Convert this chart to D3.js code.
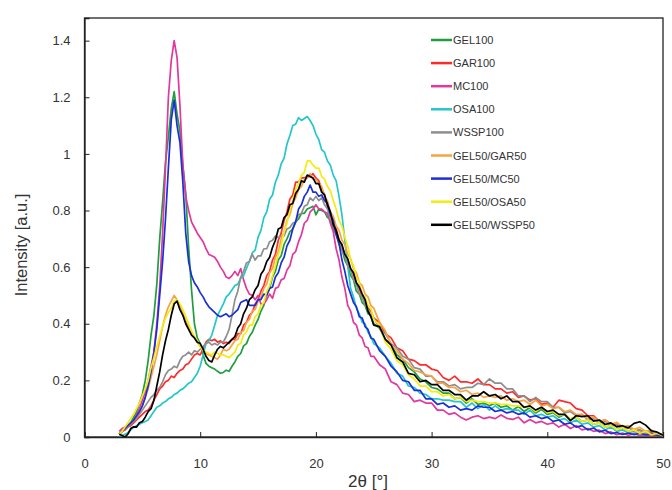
<!DOCTYPE html>
<html>
<head>
<meta charset="utf-8">
<script src="https://cdn.jsdelivr.net/npm/d3@7"></script>
<style>
  html, body { margin: 0; padding: 0; background: #fff; }
  svg { display: block; font-family: "Liberation Sans", Arial, sans-serif; }
</style>
</head>
<body>
<svg id="chart" width="672" height="490"></svg>
<script>
// Diffraction angle grid: 0.25° steps up to 25°, then 0.5° steps to 50°
const angleFine = [
  3, 3.25, 3.5, 3.75, 4, 4.25, 4.5, 4.75, 5, 5.25, 5.5, 5.75, 6, 6.25, 6.5, 6.75,
  7, 7.25, 7.5, 7.75, 8, 8.25, 8.5, 8.75, 9, 9.25, 9.5, 9.75, 10, 10.25, 10.5, 10.75,
  11, 11.25, 11.5, 11.75, 12, 12.25, 12.5, 12.75, 13, 13.25, 13.5, 13.75, 14, 14.25, 14.5, 14.75,
  15, 15.25, 15.5, 15.75, 16, 16.25, 16.5, 16.75, 17, 17.25, 17.5, 17.75, 18, 18.25, 18.5, 18.75,
  19, 19.25, 19.5, 19.75, 20, 20.25, 20.5, 20.75, 21, 21.25, 21.5, 21.75, 22, 22.25, 22.5, 22.75,
  23, 23.25, 23.5, 23.75, 24, 24.25, 24.5, 24.75, 25
];
const angleCoarse = [
  25.5, 26, 26.5, 27, 27.5, 28, 28.5, 29, 29.5, 30,
  30.5, 31, 31.5, 32, 32.5, 33, 33.5, 34, 34.5, 35,
  35.5, 36, 36.5, 37, 37.5, 38, 38.5, 39, 39.5, 40,
  40.5, 41, 41.5, 42, 42.5, 43, 43.5, 44, 44.5, 45,
  45.5, 46, 46.5, 47, 47.5, 48, 48.5, 49, 49.5, 50
];
const twoTheta = angleFine.concat(angleCoarse);

// Intensity [a.u.] of each sample
const gel100 = [
  0.01, 0.02, 0.03, 0.04, 0.05, 0.07, 0.09, 0.12, 0.15, 0.20, 0.27, 0.36, 0.43, 0.54, 0.70, 0.83,
  0.97, 1.06, 1.16, 1.22, 1.14, 1.08, 0.96, 0.86, 0.67, 0.52, 0.40, 0.35, 0.33, 0.29, 0.26, 0.25,
  0.245, 0.24, 0.232, 0.225, 0.228, 0.236, 0.232, 0.25, 0.265, 0.285, 0.295, 0.322, 0.33, 0.355, 0.37, 0.395,
  0.415, 0.445, 0.465, 0.505, 0.525, 0.565, 0.585, 0.625, 0.64, 0.68, 0.70, 0.725, 0.735, 0.76, 0.77, 0.79,
  0.79, 0.805, 0.81, 0.815, 0.785, 0.805, 0.80, 0.795, 0.775, 0.77, 0.735, 0.715, 0.68, 0.665, 0.625, 0.605,
  0.57, 0.555, 0.515, 0.505, 0.475, 0.465, 0.435, 0.43, 0.40,
  0.385, 0.345, 0.325, 0.29, 0.275, 0.245, 0.23, 0.205, 0.195, 0.175,
  0.17, 0.155, 0.155, 0.135, 0.14, 0.12, 0.135, 0.115, 0.12, 0.11,
  0.12, 0.105, 0.11, 0.095, 0.108, 0.09, 0.104, 0.085, 0.098, 0.08,
  0.086, 0.07, 0.08, 0.062, 0.07, 0.055, 0.06, 0.045, 0.05, 0.035,
  0.04, 0.025, 0.033, 0.02, 0.025, 0.015, 0.02, 0.008, 0.012, 0.004
];
const gar100 = [
  0.01, 0.02, 0.025, 0.035, 0.04, 0.05, 0.06, 0.07, 0.08, 0.09, 0.095, 0.11, 0.13, 0.15, 0.17, 0.18,
  0.195, 0.20, 0.215, 0.21, 0.225, 0.235, 0.24, 0.255, 0.26, 0.275, 0.29, 0.295, 0.29, 0.31, 0.335, 0.345,
  0.34, 0.345, 0.335, 0.34, 0.33, 0.335, 0.33, 0.345, 0.345, 0.365, 0.365, 0.395, 0.405, 0.43, 0.44, 0.47,
  0.485, 0.515, 0.535, 0.57, 0.585, 0.625, 0.645, 0.695, 0.72, 0.765, 0.795, 0.84, 0.855, 0.90, 0.90, 0.915,
  0.915, 0.92, 0.92, 0.93, 0.915, 0.905, 0.875, 0.855, 0.815, 0.795, 0.755, 0.735, 0.695, 0.675, 0.64, 0.625,
  0.59, 0.575, 0.54, 0.525, 0.495, 0.485, 0.455, 0.445, 0.42,
  0.405, 0.365, 0.35, 0.315, 0.305, 0.275, 0.27, 0.255, 0.255, 0.24,
  0.235, 0.21, 0.20, 0.215, 0.195, 0.195, 0.19, 0.205, 0.185, 0.185,
  0.17, 0.17, 0.155, 0.16, 0.14, 0.145, 0.13, 0.135, 0.115, 0.12,
  0.105, 0.13, 0.125, 0.12, 0.10, 0.095, 0.075, 0.075, 0.055, 0.06,
  0.045, 0.045, 0.03, 0.035, 0.02, 0.025, 0.012, 0.016, 0.006, 0.008
];
const mc100 = [
  0.02, 0.03, 0.035, 0.04, 0.05, 0.06, 0.08, 0.10, 0.13, 0.16, 0.20, 0.25, 0.30, 0.40, 0.53, 0.72,
  0.95, 1.20, 1.33, 1.40, 1.34, 1.17, 0.96, 0.85, 0.80, 0.76, 0.74, 0.72, 0.705, 0.69, 0.665, 0.645,
  0.64, 0.635, 0.62, 0.60, 0.585, 0.565, 0.56, 0.57, 0.585, 0.57, 0.595, 0.555, 0.525, 0.505, 0.50, 0.485,
  0.50, 0.47, 0.47, 0.485, 0.505, 0.49, 0.525, 0.53, 0.555, 0.56, 0.59, 0.605, 0.645, 0.655, 0.69, 0.715,
  0.755, 0.765, 0.795, 0.805, 0.82, 0.805, 0.805, 0.795, 0.79, 0.755, 0.725, 0.665, 0.625, 0.565, 0.525, 0.465,
  0.445, 0.405, 0.395, 0.36, 0.35, 0.32, 0.315, 0.285, 0.285,
  0.255, 0.24, 0.195, 0.185, 0.155, 0.15, 0.125, 0.13, 0.12, 0.12,
  0.095, 0.095, 0.08, 0.085, 0.07, 0.06, 0.07, 0.075, 0.065, 0.07,
  0.065, 0.078, 0.066, 0.062, 0.07, 0.05, 0.062, 0.05, 0.055, 0.045,
  0.05, 0.035, 0.045, 0.03, 0.04, 0.025, 0.03, 0.02, 0.024, 0.012,
  0.018, 0.008, 0.014, 0.006, 0.012, 0.005, 0.008, 0.004, 0.006, 0.003
];
const osa100 = [
  0.0, 0.005, 0.01, 0.015, 0.025, 0.035, 0.04, 0.045, 0.05, 0.055, 0.06, 0.075, 0.09, 0.105, 0.11, 0.12,
  0.125, 0.135, 0.14, 0.15, 0.155, 0.165, 0.17, 0.18, 0.19, 0.195, 0.21, 0.225, 0.25, 0.29, 0.33, 0.34,
  0.36, 0.395, 0.43, 0.45, 0.47, 0.495, 0.505, 0.52, 0.535, 0.54, 0.56, 0.57, 0.595, 0.62, 0.65, 0.66,
  0.705, 0.73, 0.775, 0.795, 0.84, 0.855, 0.90, 0.925, 0.965, 0.985, 1.035, 1.065, 1.10, 1.105, 1.128, 1.118,
  1.125, 1.132, 1.118, 1.10, 1.07, 1.05, 1.015, 1.005, 0.975, 0.96, 0.925, 0.905, 0.85, 0.785, 0.695, 0.605,
  0.525, 0.495, 0.455, 0.435, 0.405, 0.40, 0.37, 0.355, 0.33,
  0.315, 0.285, 0.26, 0.225, 0.215, 0.18, 0.175, 0.155, 0.15, 0.135,
  0.135, 0.13, 0.13, 0.125, 0.125, 0.105, 0.12, 0.10, 0.115, 0.095,
  0.11, 0.095, 0.10, 0.095, 0.095, 0.08, 0.095, 0.075, 0.08, 0.07,
  0.075, 0.06, 0.065, 0.05, 0.06, 0.045, 0.05, 0.035, 0.04, 0.025,
  0.035, 0.02, 0.025, 0.015, 0.02, 0.01, 0.016, 0.008, 0.012, 0.004
];
const wssp100 = [
  0.01, 0.02, 0.03, 0.035, 0.045, 0.055, 0.065, 0.08, 0.095, 0.11, 0.125, 0.14, 0.15, 0.165, 0.175, 0.195,
  0.22, 0.235, 0.24, 0.25, 0.245, 0.27, 0.285, 0.29, 0.30, 0.29, 0.305, 0.30, 0.31, 0.32, 0.33, 0.335,
  0.325, 0.33, 0.325, 0.335, 0.335, 0.355, 0.38, 0.43, 0.485, 0.515, 0.565, 0.585, 0.615, 0.62, 0.645, 0.625,
  0.64, 0.64, 0.665, 0.665, 0.69, 0.695, 0.71, 0.705, 0.71, 0.71, 0.735, 0.74, 0.755, 0.76, 0.785, 0.79,
  0.815, 0.82, 0.845, 0.835, 0.85, 0.835, 0.845, 0.82, 0.805, 0.77, 0.755, 0.715, 0.695, 0.66, 0.64, 0.605,
  0.59, 0.555, 0.54, 0.505, 0.495, 0.465, 0.455, 0.425, 0.42,
  0.385, 0.365, 0.33, 0.315, 0.285, 0.275, 0.245, 0.24, 0.215, 0.215,
  0.195, 0.195, 0.18, 0.185, 0.17, 0.175, 0.175, 0.19, 0.185, 0.205,
  0.19, 0.19, 0.17, 0.17, 0.145, 0.145, 0.125, 0.14, 0.125, 0.125,
  0.105, 0.105, 0.085, 0.09, 0.075, 0.08, 0.06, 0.065, 0.05, 0.055,
  0.04, 0.045, 0.03, 0.035, 0.02, 0.025, 0.015, 0.02, 0.008, 0.006
];
const gel50gar50 = [
  0.01, 0.02, 0.03, 0.04, 0.05, 0.06, 0.075, 0.09, 0.11, 0.14, 0.17, 0.21, 0.25, 0.29, 0.34, 0.39,
  0.43, 0.46, 0.48, 0.50, 0.485, 0.465, 0.44, 0.41, 0.39, 0.37, 0.35, 0.335, 0.32, 0.305, 0.295, 0.29,
  0.285, 0.28, 0.275, 0.29, 0.31, 0.305, 0.31, 0.325, 0.34, 0.345, 0.37, 0.375, 0.405, 0.415, 0.445, 0.45,
  0.48, 0.495, 0.525, 0.54, 0.58, 0.595, 0.635, 0.655, 0.70, 0.725, 0.765, 0.785, 0.825, 0.845, 0.875, 0.885,
  0.91, 0.915, 0.93, 0.91, 0.91, 0.895, 0.885, 0.85, 0.835, 0.795, 0.78, 0.745, 0.73, 0.695, 0.68, 0.645,
  0.63, 0.595, 0.58, 0.545, 0.535, 0.505, 0.495, 0.465, 0.455,
  0.405, 0.375, 0.325, 0.305, 0.275, 0.26, 0.235, 0.23, 0.22, 0.215,
  0.19, 0.19, 0.175, 0.175, 0.16, 0.165, 0.15, 0.155, 0.14, 0.145,
  0.14, 0.145, 0.13, 0.135, 0.125, 0.13, 0.115, 0.13, 0.11, 0.115,
  0.10, 0.105, 0.09, 0.095, 0.08, 0.08, 0.065, 0.07, 0.055, 0.06,
  0.045, 0.052, 0.036, 0.04, 0.027, 0.034, 0.02, 0.025, 0.012, 0.01
];
const gel50mc50 = [
  0.01, 0.02, 0.03, 0.04, 0.05, 0.06, 0.075, 0.09, 0.11, 0.14, 0.18, 0.23, 0.30, 0.38, 0.50, 0.62,
  0.77, 0.95, 1.12, 1.19, 1.10, 1.04, 0.90, 0.72, 0.62, 0.57, 0.545, 0.53, 0.51, 0.495, 0.475, 0.46,
  0.45, 0.44, 0.43, 0.425, 0.43, 0.435, 0.425, 0.43, 0.44, 0.45, 0.475, 0.48, 0.485, 0.465, 0.465, 0.465,
  0.485, 0.485, 0.505, 0.50, 0.525, 0.53, 0.565, 0.58, 0.615, 0.635, 0.675, 0.695, 0.735, 0.76, 0.805, 0.82,
  0.85, 0.865, 0.89, 0.865, 0.865, 0.85, 0.855, 0.835, 0.825, 0.785, 0.765, 0.715, 0.685, 0.625, 0.585, 0.535,
  0.505, 0.475, 0.46, 0.425, 0.42, 0.39, 0.38, 0.35, 0.345,
  0.305, 0.285, 0.25, 0.23, 0.20, 0.195, 0.165, 0.165, 0.135, 0.135,
  0.115, 0.12, 0.105, 0.11, 0.095, 0.10, 0.095, 0.11, 0.105, 0.105,
  0.09, 0.095, 0.085, 0.09, 0.08, 0.085, 0.07, 0.075, 0.065, 0.07,
  0.055, 0.06, 0.045, 0.05, 0.035, 0.04, 0.025, 0.032, 0.018, 0.024,
  0.012, 0.016, 0.009, 0.014, 0.008, 0.014, 0.007, 0.012, 0.006, 0.005
];
const gel50osa50 = [
  0.01, 0.02, 0.035, 0.05, 0.065, 0.08, 0.10, 0.12, 0.145, 0.17, 0.20, 0.245, 0.28, 0.32, 0.355, 0.39,
  0.42, 0.44, 0.455, 0.48, 0.485, 0.47, 0.45, 0.425, 0.40, 0.375, 0.355, 0.34, 0.32, 0.305, 0.30, 0.295,
  0.29, 0.30, 0.295, 0.29, 0.29, 0.285, 0.28, 0.29, 0.30, 0.325, 0.33, 0.36, 0.37, 0.395, 0.395, 0.425,
  0.435, 0.465, 0.475, 0.515, 0.535, 0.57, 0.605, 0.645, 0.675, 0.725, 0.755, 0.805, 0.835, 0.875, 0.895, 0.925,
  0.935, 0.975, 0.975, 0.96, 0.95, 0.95, 0.92, 0.91, 0.885, 0.87, 0.835, 0.805, 0.765, 0.745, 0.705, 0.675,
  0.625, 0.605, 0.565, 0.545, 0.505, 0.495, 0.465, 0.455, 0.415,
  0.395, 0.335, 0.31, 0.27, 0.255, 0.22, 0.205, 0.18, 0.18, 0.16,
  0.16, 0.145, 0.15, 0.135, 0.14, 0.125, 0.13, 0.125, 0.125, 0.12,
  0.12, 0.115, 0.115, 0.11, 0.11, 0.105, 0.105, 0.09, 0.105, 0.085,
  0.09, 0.075, 0.08, 0.065, 0.07, 0.055, 0.06, 0.045, 0.05, 0.035,
  0.04, 0.025, 0.033, 0.02, 0.025, 0.013, 0.02, 0.008, 0.013, 0.004
];
const gel50wssp50 = [
  0.01, 0.005, 0.0, 0.01, 0.03, 0.036, 0.035, 0.05, 0.055, 0.07, 0.09, 0.10, 0.13, 0.18, 0.23, 0.29,
  0.34, 0.38, 0.43, 0.47, 0.48, 0.45, 0.43, 0.40, 0.38, 0.36, 0.35, 0.335, 0.33, 0.31, 0.285, 0.27,
  0.265, 0.29, 0.31, 0.32, 0.315, 0.325, 0.335, 0.345, 0.355, 0.385, 0.40, 0.435, 0.455, 0.485, 0.495, 0.52,
  0.535, 0.575, 0.59, 0.62, 0.635, 0.67, 0.695, 0.735, 0.74, 0.775, 0.785, 0.82, 0.825, 0.86, 0.875, 0.905,
  0.90, 0.925, 0.92, 0.915, 0.895, 0.895, 0.865, 0.855, 0.82, 0.795, 0.75, 0.73, 0.695, 0.68, 0.645, 0.63,
  0.595, 0.58, 0.545, 0.53, 0.505, 0.485, 0.445, 0.425, 0.395,
  0.39, 0.345, 0.325, 0.28, 0.265, 0.225, 0.22, 0.195, 0.20, 0.185,
  0.185, 0.165, 0.165, 0.15, 0.15, 0.13, 0.145, 0.145, 0.16, 0.145,
  0.15, 0.135, 0.145, 0.125, 0.125, 0.105, 0.11, 0.095, 0.105, 0.09,
  0.095, 0.08, 0.08, 0.058, 0.075, 0.072, 0.075, 0.056, 0.06, 0.044,
  0.05, 0.036, 0.04, 0.032, 0.048, 0.054, 0.042, 0.022, 0.017, 0.006
];

const seriesNames = ["GEL100", "GAR100", "MC100", "OSA100", "WSSP100",
                     "GEL50/GAR50", "GEL50/MC50", "GEL50/OSA50", "GEL50/WSSP50"];
const seriesValues = [gel100, gar100, mc100, osa100, wssp100,
                      gel50gar50, gel50mc50, gel50osa50, gel50wssp50];
const seriesColors = ["#1f9d3f", "#ff2b2b", "#e2379c", "#25c6cb", "#8e8e8e",
                      "#f6a343", "#1b2fd6", "#f3ec12", "#000000"];

const xTicks = [0, 10, 20, 30, 40, 50];
const yTicks = [0, 0.2, 0.4, 0.6, 0.8, 1, 1.2, 1.4];

const svg = d3.select("#chart");
const plotLeft = 84.5, plotRight = 663, plotTop = 18, plotBottom = 437;

const x = d3.scaleLinear().domain([0, 50]).range([plotLeft, plotRight]);
const y = d3.scaleLinear().domain([0, 1.48]).range([plotBottom, plotTop]);

// frame
svg.append("rect")
  .attr("x", plotLeft).attr("y", plotTop)
  .attr("width", plotRight - plotLeft).attr("height", plotBottom - plotTop)
  .attr("fill", "none").attr("stroke", "#222").attr("stroke-width", 1.3);

// traces
const line = d3.line()
  .x((d, i) => x(twoTheta[i]))
  .y(d => y(d));

const traces = svg.append("g");
seriesValues.forEach((vals, k) => {
  traces.append("path")
    .datum(vals)
    .attr("d", line)
    .attr("fill", "none")
    .attr("stroke", seriesColors[k])
    .attr("stroke-width", 1.7)
    .attr("stroke-linejoin", "round");
});

// axes (ticks point inward)
const xAxis = d3.axisBottom(x).tickValues(xTicks).tickSize(-5).tickPadding(22)
  .tickFormat(d3.format("d"));
const yAxis = d3.axisLeft(y).tickValues(yTicks).tickSize(-5).tickPadding(14)
  .tickFormat(d => d === 0 ? "0" : d === 1 ? "1" : d3.format(".1f")(d));

const gx = svg.append("g").attr("transform", `translate(0,${plotBottom})`).call(xAxis);
const gy = svg.append("g").attr("transform", `translate(${plotLeft},0)`).call(yAxis);
[gx, gy].forEach(g => {
  g.select(".domain").attr("stroke", "#222").attr("stroke-width", 1.3);
  g.selectAll(".tick line").attr("stroke", "#222").attr("stroke-width", 1);
  g.selectAll(".tick text")
    .attr("fill", "#333")
    .style("font-family", "'Liberation Sans', Arial, sans-serif")
    .style("font-size", "13px");
});

// axis titles
svg.append("text")
  .attr("x", 368).attr("y", 487)
  .attr("text-anchor", "middle")
  .attr("fill", "#333")
  .style("font-size", "17px")
  .text("2θ [°]");

svg.append("text")
  .attr("transform", "translate(27,245) rotate(-90)")
  .attr("text-anchor", "middle")
  .attr("fill", "#333")
  .style("font-size", "16.5px")
  .text("Intensity [a.u.]");

// legend
const legend = svg.append("g");
seriesNames.forEach((name, k) => {
  const cy = 40 + k * 23.1;
  legend.append("line")
    .attr("x1", 431).attr("x2", 452)
    .attr("y1", cy).attr("y2", cy)
    .attr("stroke", seriesColors[k]).attr("stroke-width", 2.5);
  legend.append("text")
    .attr("x", 453).attr("y", cy + 4)
    .attr("fill", "#333")
    .style("font-size", "11px")
    .text(name);
});
</script>
</body>
</html>
